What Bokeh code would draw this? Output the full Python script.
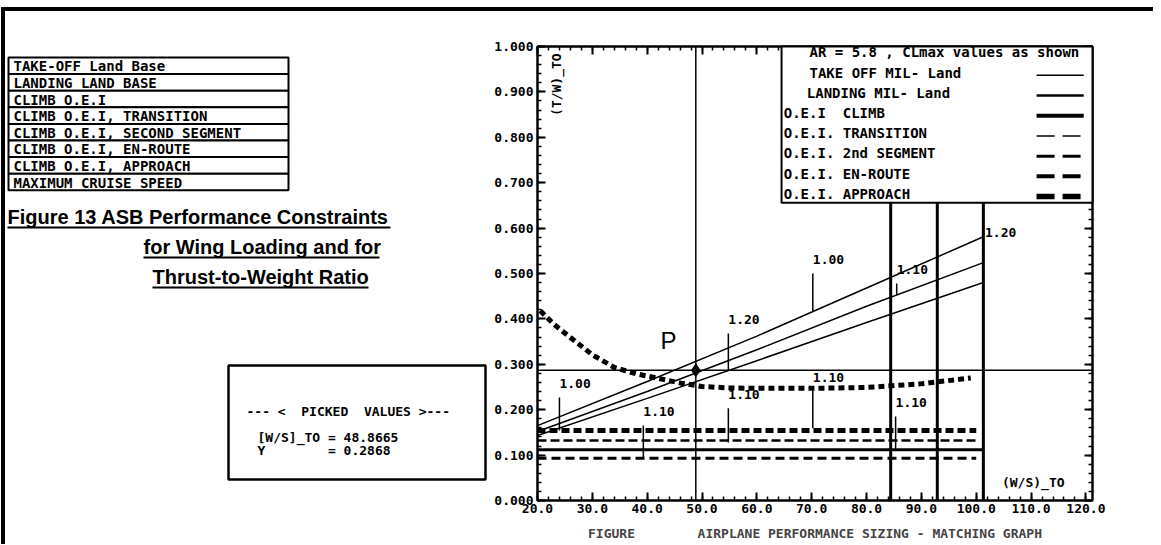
import numpy as np
from bokeh.plotting import figure
from bokeh.layouts import row
from bokeh.models import (Range1d, LinearAxis, FixedTicker, NumeralTickFormatter,
                          CustomJSTickFormatter, Label)
from bokeh.core.properties import value
from bokeh.embed import file_html
from bokeh.resources import INLINE

NB = "\u00a0"
MONO = "DejaVu Sans Mono"
SANS = "Liberation Sans"

# ---------------- data ----------------
constraint_names = ["TAKE-OFF Land Base", "LANDING LAND BASE", "CLIMB O.E.I",
                    "CLIMB O.E.I, TRANSITION", "CLIMB O.E.I, SECOND SEGMENT",
                    "CLIMB O.E.I, EN-ROUTE", "CLIMB O.E.I, APPROACH",
                    "MAXIMUM CRUISE SPEED"]
legend_header = "AR = 5.8 , CLmax values as shown"
legend_labels = ["TAKE OFF MIL- Land", "LANDING MIL- Land", "O.E.I" + NB + NB + "CLIMB",
                 "O.E.I. TRANSITION", "O.E.I. 2nd SEGMENT", "O.E.I. EN-ROUTE",
                 "O.E.I. APPROACH"]
title_lines = ["Figure 13 ASB Performance Constraints", "for Wing Loading and for",
               "Thrust-to-Weight Ratio"]

x_tick_values = [20, 30, 40, 50, 60, 70, 80, 90, 100, 110, 120]
y_tick_values = [0.0, 0.1, 0.2, 0.3, 0.4, 0.5, 0.6, 0.7, 0.8, 0.9, 1.0]

# take-off (three CLmax values)
ws_takeoff = [20, 40, 60, 80, 101.3]
tw_takeoff_cl100 = [0.165, 0.262, 0.362, 0.468, 0.581]
tw_takeoff_cl110 = [0.152, 0.240, 0.332, 0.428, 0.524]
tw_takeoff_cl120 = [0.143, 0.225, 0.308, 0.392, 0.480]
takeoff_cl = ["1.00", "1.10", "1.20"]

# landing (vertical constraints)
landing_ws = [84.4, 92.9, 101.3]

# climb constraints (horizontal)
climb_oei_tw = 0.112
transition_tw = 0.132
second_segment_tw = 0.093
approach_tw = 0.154
climb_start_ws = 20.0
climb_dashed_end_ws = 100.0
climb_solid_end_ws = 101.3

# maximum cruise speed
cruise_ws = [20.5, 23, 26, 30, 34, 38, 42, 46, 50, 55, 60, 70, 80, 90, 99]
cruise_tw = [0.418, 0.388, 0.359, 0.321, 0.293, 0.279, 0.269, 0.259, 0.251,
             0.248, 0.247, 0.247, 0.249, 0.257, 0.270]

# picked design point
picked_ws = 48.8665
picked_tw = 0.2868

# CLmax annotations (leader x, leader top)
to_lab_ws = [70.2, 85.5, 54.8]
to_lab_top = [0.500, 0.478, 0.368]
climb_lab_text = ["1.00", "1.10", "1.10", "1.10", "1.10"]
climb_lab_ws = [24.0, 39.3, 54.8, 70.2, 85.3]
climb_lab_top = [0.227, 0.165, 0.203, 0.242, 0.185]
climb_lab_bot = [0.154, 0.093, 0.128, 0.159, 0.110]

X0, X1 = 20, 121.2
H = 533
BT, BB = 35, 44          # top / bottom borders shared by both panels
LW = 483                 # left panel width (page x 5 .. 488)

# ---------------- main chart ----------------
p = figure(width=665, height=H, x_range=Range1d(X0, X1), y_range=Range1d(0, 1.0),
           output_backend="svg", toolbar_location=None,
           min_border_left=49, min_border_right=61, min_border_top=BT, min_border_bottom=BB,
           background_fill_color="white", border_fill_color="white")
p.grid.visible = False
p.outline_line_color = "black"
p.outline_line_width = 2

x_minor = [float(v) for v in np.arange(20, 121, 2)]
y_minor = [float(v) for v in np.round(np.arange(0, 1.001, 0.02), 2)]


def style_axis(ax):
    ax.axis_line_width = 2
    ax.major_tick_in = 8
    ax.major_tick_out = 0
    ax.minor_tick_in = 4
    ax.minor_tick_out = 0
    ax.major_tick_line_width = 2
    ax.minor_tick_line_width = 1.5
    ax.major_label_text_font = MONO
    ax.major_label_text_font_style = "bold"
    ax.major_label_text_font_size = "13px"
    ax.major_label_text_color = "black"


xa = p.xaxis[0]
xa.ticker = FixedTicker(ticks=x_tick_values, minor_ticks=x_minor)
xa.formatter = NumeralTickFormatter(format="0.0")
style_axis(xa)
xa.major_label_standoff = 3
xa.axis_label = "FIGURE" + NB * 8 + "AIRPLANE PERFORMANCE SIZING - MATCHING GRAPH"
xa.axis_label_text_font = MONO
xa.axis_label_text_font_style = "bold"
xa.axis_label_text_font_size = "13px"
xa.axis_label_standoff = 10

ya = p.yaxis[0]
ya.ticker = FixedTicker(ticks=y_tick_values, minor_ticks=y_minor)
ya.formatter = NumeralTickFormatter(format="0.000")
style_axis(ya)
ya.major_label_standoff = 4

blank = "return ''"
top_ax = LinearAxis(ticker=FixedTicker(ticks=x_tick_values, minor_ticks=x_minor),
                    formatter=CustomJSTickFormatter(code=blank))
style_axis(top_ax)
top_ax.major_label_standoff = 0
p.add_layout(top_ax, "above")
right_ax = LinearAxis(ticker=FixedTicker(ticks=y_tick_values, minor_ticks=y_minor),
                      formatter=CustomJSTickFormatter(code=blank))
style_axis(right_ax)
right_ax.major_label_standoff = 0
p.add_layout(right_ax, "right")

# landing verticals
p.segment(x0=landing_ws, y0=0, x1=landing_ws, y1=1.0, line_color="black", line_width=3)

# climb horizontals
p.segment(x0=[climb_start_ws], y0=[climb_oei_tw], x1=[climb_solid_end_ws], y1=[climb_oei_tw],
          line_color="black", line_width=3)
p.segment(x0=[climb_start_ws], y0=[transition_tw], x1=[climb_dashed_end_ws], y1=[transition_tw],
          line_color="black", line_width=2.5, line_dash="9 4")
p.segment(x0=[climb_start_ws], y0=[second_segment_tw], x1=[climb_dashed_end_ws], y1=[second_segment_tw],
          line_color="black", line_width=3, line_dash="9 5")
p.segment(x0=[climb_start_ws], y0=[approach_tw], x1=[climb_dashed_end_ws], y1=[approach_tw],
          line_color="black", line_width=5, line_dash="8 4")

# take-off lines
for tw in (tw_takeoff_cl100, tw_takeoff_cl110, tw_takeoff_cl120):
    p.line(ws_takeoff, tw, line_color="black", line_width=1.5)

# cruise speed curve
p.line(cruise_ws, cruise_tw, line_color="black", line_width=5, line_dash="6 4")

# picked point cross-hair
p.segment(x0=[picked_ws], y0=[0], x1=[picked_ws], y1=[1.0], line_color="black", line_width=1.5)
p.segment(x0=[X0], y0=[picked_tw], x1=[X1], y1=[picked_tw], line_color="black", line_width=1.5)
p.scatter([picked_ws], [picked_tw], marker="diamond", size=13, color="black")
p.add_layout(Label(x=43.9, y=0.352, text="P", text_font=SANS, text_font_size="24px",
                   text_align="center", text_baseline="middle", text_color="black"))

# take-off CLmax labels with leaders
to_curves = [tw_takeoff_cl100, tw_takeoff_cl110, tw_takeoff_cl120]
to_lab_bot = [float(np.interp(x, ws_takeoff, c)) for x, c in zip(to_lab_ws, to_curves)]
p.segment(x0=to_lab_ws, y0=to_lab_top, x1=to_lab_ws, y1=to_lab_bot, line_color="black", line_width=1.5)
p.text(x=to_lab_ws, y=[t + 0.03 for t in to_lab_top], text=takeoff_cl,
       text_font=value(MONO), text_font_style="bold", text_font_size="13px",
       text_align="left", text_baseline="middle", text_color="black")
p.text(x=[landing_ws[2] + 0.3], y=[0.590], text=["1.20"],
       text_font=value(MONO), text_font_style="bold", text_font_size="13px",
       text_align="left", text_baseline="middle", text_color="black")

# climb CLmax labels with leaders
p.segment(x0=climb_lab_ws, y0=climb_lab_top, x1=climb_lab_ws, y1=climb_lab_bot,
          line_color="black", line_width=1.5)
p.text(x=climb_lab_ws, y=[t + 0.03 for t in climb_lab_top], text=climb_lab_text,
       text_font=value(MONO), text_font_style="bold", text_font_size="13px",
       text_align="left", text_baseline="middle", text_color="black")

# axis names inside the frame
p.text(x=[23.5], y=[0.916], text=["(T/W)_TO"], angle=np.pi / 2,
       text_font=value(MONO), text_font_style="bold", text_font_size="13px",
       text_align="center", text_baseline="middle", text_color="black")
p.text(x=[110.4], y=[0.040], text=["(W/S)_TO"],
       text_font=value(MONO), text_font_style="bold", text_font_size="13px",
       text_align="center", text_baseline="middle", text_color="black")

# legend box (drawn over the top/right axis ticks)
p.quad(left=[64.5], right=[X1], bottom=[0.656], top=[1.0], fill_color="white",
       line_color="black", line_width=2, level="overlay")
leg_y = [0.987 - 0.0445 * i for i in range(8)]
p.text(x=[69.6], y=[leg_y[0]], text=[legend_header], text_font=value(MONO),
       text_font_style="bold", text_font_size="14px", text_align="left",
       text_baseline="middle", text_color="black", level="overlay")
leg_x = [69.6, 69.1, 64.9, 64.9, 64.9, 64.9, 64.9]
p.text(x=leg_x, y=leg_y[1:], text=legend_labels, text_font=value(MONO),
       text_font_style="bold", text_font_size="14px", text_align="left",
       text_baseline="middle", text_color="black", level="overlay")
leg_styles = [(1.5, "solid"), (2.5, "solid"), (4, "solid"), (1.5, "18 8"),
              (3, "18 8"), (4, "18 8"), (5.5, "18 8")]
for (lw, dash), yy in zip(leg_styles, leg_y[1:]):
    p.line([111.0, 119.6], [yy - 0.006, yy - 0.006], line_color="black", line_width=lw,
           line_dash=dash, level="overlay")

# ---------------- left panel (page text, page-pixel coordinates) ----------------
L = figure(width=LW, height=H, x_range=Range1d(5, 5 + LW), y_range=Range1d(500, 46),
           output_backend="svg", toolbar_location=None,
           min_border_left=0, min_border_right=0, min_border_top=BT, min_border_bottom=BB,
           x_axis_location=None, y_axis_location=None,
           background_fill_color="white", border_fill_color="white")
L.grid.visible = False
L.outline_line_color = None

row_h = 16.6
row_top = [57 + i * row_h for i in range(len(constraint_names))]
L.quad(left=8, right=288, top=row_top, bottom=[t + row_h for t in row_top],
       fill_color="white", line_color="black", line_width=2)
L.text(x=13, y=[t + row_h / 2 + 0.5 for t in row_top], text=constraint_names,
       text_font=value(MONO), text_font_style="bold", text_font_size="14px",
       text_align="left", text_baseline="middle", text_color="black")

title_x = [7, 143, 152]
title_y = [216, 246, 276]
title_w = [383, 236, 216]
L.text(x=title_x, y=title_y, text=title_lines, text_font=value(SANS),
       text_font_style="bold", text_font_size="20px", text_align="left",
       text_baseline="middle", text_color="black")
L.segment(x0=title_x, y0=[y + 11 for y in title_y], x1=[x + w for x, w in zip(title_x, title_w)],
          y1=[y + 11 for y in title_y], line_color="black", line_width=2)

L.quad(left=[228], right=[485], top=[365], bottom=[479], fill_color="white",
       line_color="black", line_width=2.5)
picked_lines = ["---" + NB + "<" + NB + NB + "PICKED" + NB + NB + "VALUES" + NB + ">---",
                "[W/S]_TO = " + f"{picked_ws:.4f}",
                "Y" + NB * 8 + "= " + f"{picked_tw:.4f}"]
L.text(x=[246, 257, 257], y=[411, 437, 450], text=picked_lines, text_font=value(MONO),
       text_font_style="bold", text_font_size="13px", text_align="left",
       text_baseline="middle", text_color="black")

layout = row(L, p, styles={"margin-top": "7px", "border-top": "4px solid black",
                           "margin-left": "1px", "border-left": "4px solid black"})
open("out.html", "w").write(file_html(layout, INLINE))
